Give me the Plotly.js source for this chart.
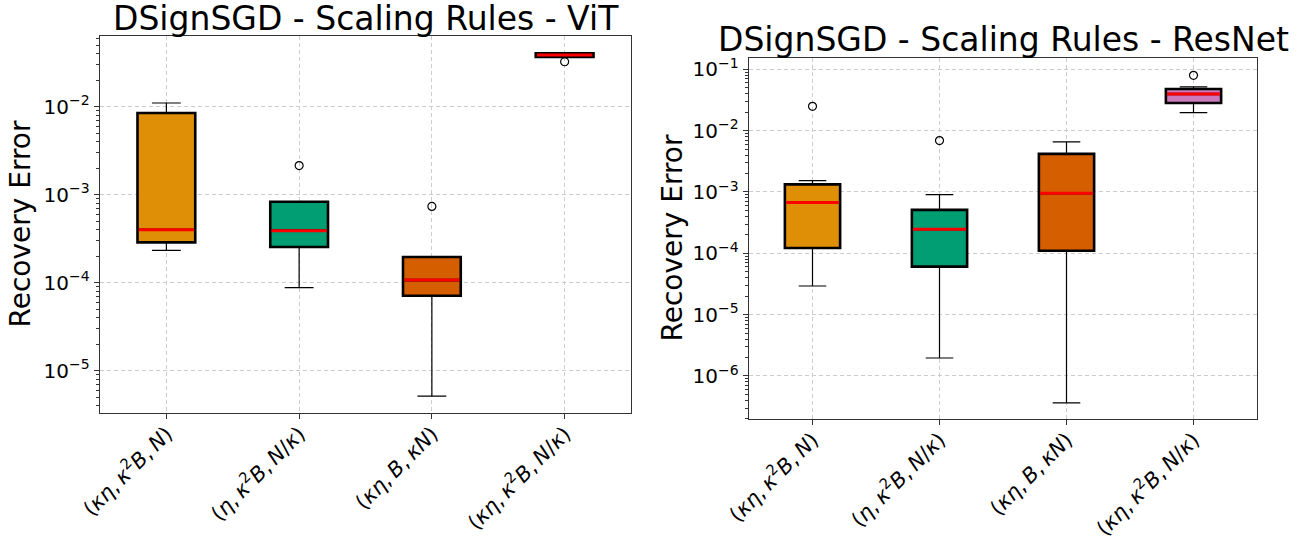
<!DOCTYPE html>
<html>
<head>
<meta charset="utf-8">
<script src="https://cdn.plot.ly/plotly-3.0.1.min.js"></script>
<style>html,body{margin:0;padding:0;background:#fff;}#chart{width:1306px;height:539px;}</style>
</head>
<body>
<div id="chart"></div>
<script>
// ---- Data ----
var categories = [
  "(<i>κη</i>,\u2009<i>κ</i><sup>2</sup><i>B</i>,\u2009<i>N</i>)",
  "(<i>η</i>,\u2009<i>κ</i><sup>2</sup><i>B</i>,\u2009<i>N</i>/<i>κ</i>)",
  "(<i>κη</i>,\u2009<i>B</i>,\u2009<i>κN</i>)",
  "(<i>κη</i>,\u2009<i>κ</i><sup>2</sup><i>B</i>,\u2009<i>N</i>/<i>κ</i>)"
];
var boxColors = ["#DE8F05", "#029E73", "#D55E00", "#CC78BC"];

// ViT
var vitLower  = [2.33e-4, 8.8e-5, 5.15e-6, 0.0365];
var vitQ1     = [2.87e-4, 2.54e-4, 7.1e-5, 0.0368];
var vitMedian = [4.0e-4, 3.9e-4, 1.07e-4, 0.0386];
var vitQ3     = [8.47e-3, 8.3e-4, 1.96e-4, 0.0405];
var vitUpper  = [0.0110, 8.3e-4, 1.96e-4, 0.0410];
var vitOutX   = [categories[1], categories[2], categories[3]];
var vitOutY   = [2.14e-3, 7.36e-4, 0.0324];

// ResNet
var resLower  = [2.93e-5, 1.96e-6, 3.63e-7, 0.0196];
var resQ1     = [1.22e-4, 6.07e-5, 1.10e-4, 0.0282];
var resMedian = [6.7e-4, 2.46e-4, 9.5e-4, 0.0396];
var resQ3     = [1.33e-3, 5.1e-4, 4.17e-3, 0.0478];
var resUpper  = [1.53e-3, 9.06e-4, 6.53e-3, 0.0515];
var resOutX   = [categories[0], categories[1], categories[3]];
var resOutY   = [0.0249, 6.87e-3, 0.0798];

var yTickVals = [1e-6, 1e-5, 1e-4, 1e-3, 1e-2, 1e-1];
var yTickText = ["10<sup>−6</sup>", "10<sup>−5</sup>", "10<sup>−4</sup>", "10<sup>−3</sup>", "10<sup>−2</sup>", "10<sup>−1</sup>"];

var titles = ["DSignSGD - Scaling Rules - ViT", "DSignSGD - Scaling Rules - ResNet"];
var yLabel = "Recovery Error";

// ---- Layout geometry (pixels) ----
var W = 1306, H = 539;
var P1 = {l: 100, r: 631, t: 36, b: 413, yr: [-5.481, -1.197]};
var P2 = {l: 749, r: 1257, t: 58, b: 419, yr: [-6.702, -0.816]};
function fx(px) { return px / W; }
function fy(px) { return 1 - px / H; }

var FONT = "DejaVu Sans, Liberation Sans, sans-serif";
var BW = 0.435;

var traces = [];
function addPanel(xa, ya, lower, q1, med, q3, upper, outX, outY) {
  for (var i = 0; i < categories.length; i++) {
    // whiskers (thin)
    traces.push({type: "box", xaxis: xa, yaxis: ya, x: [categories[i]],
      q1: [q1[i]], median: [med[i]], q3: [q3[i]], lowerfence: [lower[i]], upperfence: [upper[i]],
      width: BW, whiskerwidth: 0.5, boxpoints: false, fillcolor: "rgba(0,0,0,0)",
      line: {color: "#000", width: 1.2}, hoverinfo: "skip", showlegend: false});
    // box body (thick edge, filled)
    traces.push({type: "box", xaxis: xa, yaxis: ya, x: [categories[i]],
      q1: [q1[i]], median: [med[i]], q3: [q3[i]], lowerfence: [q1[i]], upperfence: [q3[i]],
      width: BW, whiskerwidth: 0, boxpoints: false, fillcolor: boxColors[i],
      line: {color: "#000", width: 2.6}, hoverinfo: "skip", showlegend: false});
    // red median
    traces.push({type: "box", xaxis: xa, yaxis: ya, x: [categories[i]],
      q1: [med[i]], median: [med[i]], q3: [med[i]], lowerfence: [med[i]], upperfence: [med[i]],
      width: BW * 0.96, whiskerwidth: 0, boxpoints: false, fillcolor: "rgba(0,0,0,0)",
      line: {color: "#ff0000", width: 3}, hoverinfo: "skip", showlegend: false});
  }
  traces.push({type: "scatter", mode: "markers", xaxis: xa, yaxis: ya, x: outX, y: outY,
    marker: {symbol: "circle-open", size: 8, color: "#000", line: {width: 1.2, color: "#000"}},
    hoverinfo: "skip", showlegend: false});
}
addPanel("x", "y", vitLower, vitQ1, vitMedian, vitQ3, vitUpper, vitOutX, vitOutY);
addPanel("x2", "y2", resLower, resQ1, resMedian, resQ3, resUpper, resOutX, resOutY);

function xaxisDef(P) {
  return {domain: [fx(P.l), fx(P.r)], type: "category", categoryorder: "array", categoryarray: categories,
    range: [-0.5, 3.5], tickangle: -45, ticks: "outside", ticklen: 5, tickcolor: "#333",
    ticklabelstandoff: -6,
    tickfont: {family: FONT, size: 21, color: "#000"},
    showgrid: true, gridcolor: "#cccccc", griddash: "4px,3px", gridwidth: 1,
    showline: true, linecolor: "#333", linewidth: 1.3, mirror: true, zeroline: false, fixedrange: true};
}
function yaxisDef(P, anchor) {
  return {domain: [fy(P.b), fy(P.t)], type: "log", range: P.yr, anchor: anchor,
    tickvals: yTickVals, ticktext: yTickText, ticks: "outside", ticklen: 5, tickcolor: "#333",
    tickfont: {family: FONT, size: 20, color: "#000"},
    minor: {ticks: "outside", ticklen: 3, tickcolor: "#333", dtick: "D1", showgrid: false},
    showgrid: true, gridcolor: "#cccccc", griddash: "4px,3px", gridwidth: 1,
    showline: true, linecolor: "#333", linewidth: 1.3, mirror: true, zeroline: false, fixedrange: true};
}

var layout = {
  width: W, height: H, margin: {l: 0, r: 0, t: 0, b: 0},
  paper_bgcolor: "#fff", plot_bgcolor: "#fff", boxmode: "overlay", showlegend: false,
  font: {family: FONT, color: "#000"},
  xaxis: Object.assign(xaxisDef(P1), {anchor: "y"}),
  yaxis: yaxisDef(P1, "x"),
  xaxis2: Object.assign(xaxisDef(P2), {anchor: "y2"}),
  yaxis2: yaxisDef(P2, "x2"),
  annotations: [
    {text: titles[0], xref: "paper", yref: "paper", x: fx((P1.l + P1.r) / 2), y: fy(19),
      xanchor: "center", yanchor: "middle", showarrow: false, font: {family: FONT, size: 33, color: "#000"}},
    {text: titles[1], xref: "paper", yref: "paper", x: fx((P2.l + P2.r) / 2), y: fy(39),
      xanchor: "center", yanchor: "middle", showarrow: false, font: {family: FONT, size: 33, color: "#000"}},
    {text: yLabel, xref: "paper", yref: "paper", x: fx(20), y: fy((P1.t + P1.b) / 2), textangle: -90,
      xanchor: "center", yanchor: "middle", showarrow: false, font: {family: FONT, size: 28, color: "#000"}},
    {text: yLabel, xref: "paper", yref: "paper", x: fx(672), y: fy((P2.t + P2.b) / 2), textangle: -90,
      xanchor: "center", yanchor: "middle", showarrow: false, font: {family: FONT, size: 28, color: "#000"}}
  ]
};

Plotly.newPlot("chart", traces, layout, {staticPlot: true, displayModeBar: false});
</script>
</body>
</html>
